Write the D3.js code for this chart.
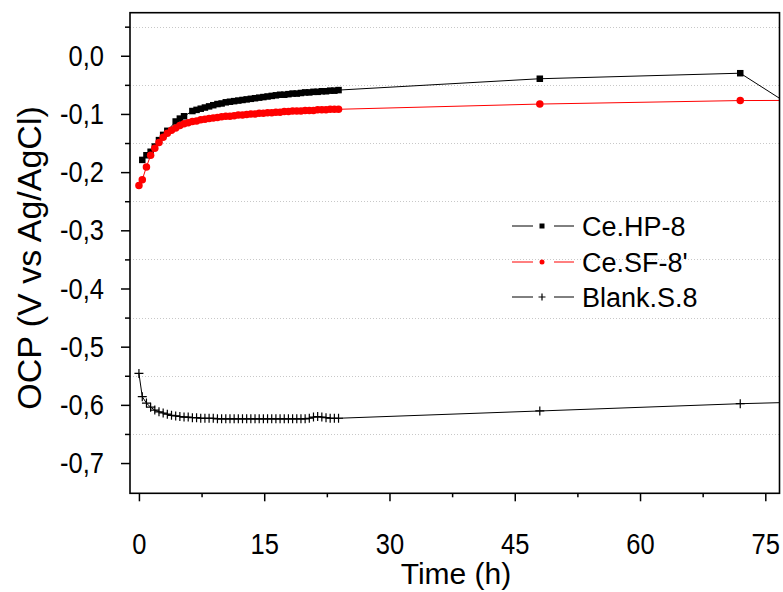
<!DOCTYPE html>
<html>
<head>
<meta charset="utf-8">
<script src="https://cdnjs.cloudflare.com/ajax/libs/d3/7.8.5/d3.min.js"></script>
<style>
  body { margin: 0; background: #fff; }
  text { font-family: "Liberation Sans", Arial, sans-serif; fill: #000; }
</style>
</head>
<body>
<div id="chart"></div>
<script>
// OCP vs time
var hpTime = [0.4, 0.9, 1.4, 1.9, 2.4, 2.9, 3.4, 4.4, 4.9, 5.4, 6.4, 6.9, 7.4, 7.9, 8.4, 8.9, 9.4, 9.9, 10.4, 10.9,
  11.4, 11.9, 12.4, 12.9, 13.4, 13.9, 14.4, 14.9, 15.4, 15.9, 16.4, 16.9, 17.4, 17.9, 18.4, 18.9, 19.4, 19.9,
  20.4, 20.9, 21.4, 21.9, 22.4, 22.9, 23.4, 23.9, 48, 72, 96];
var hpOcp = [-0.179, -0.171, -0.165, -0.156, -0.145, -0.136, -0.129, -0.113, -0.108, -0.104, -0.095, -0.093, -0.091,
  -0.089, -0.087, -0.085, -0.083, -0.082, -0.080, -0.079, -0.078, -0.077, -0.076, -0.075, -0.074, -0.073, -0.072,
  -0.071, -0.070, -0.069, -0.068, -0.067, -0.067, -0.066, -0.065, -0.065, -0.064, -0.063, -0.063, -0.062, -0.062,
  -0.061, -0.061, -0.060, -0.060, -0.059, -0.0395, -0.030, -0.25];

var sfTime = [0.0, 0.4, 0.9, 1.4, 1.9, 2.4, 2.9, 3.4, 3.9, 4.4, 4.9, 5.4, 5.9, 6.4, 6.9, 7.4, 7.9, 8.4, 8.9, 9.4, 9.9,
  10.4, 10.9, 11.4, 11.9, 12.4, 12.9, 13.4, 13.9, 14.4, 14.9, 15.4, 15.9, 16.4, 16.9, 17.4, 17.9, 18.4, 18.9,
  19.4, 19.9, 20.4, 20.9, 21.4, 21.9, 22.4, 22.9, 23.4, 23.9, 48, 72, 96];
var sfOcp = [-0.223, -0.213, -0.191, -0.171, -0.159, -0.149, -0.140, -0.133, -0.128, -0.124, -0.120, -0.117, -0.115,
  -0.113, -0.112, -0.110, -0.109, -0.108, -0.107, -0.106, -0.105, -0.104, -0.104, -0.103, -0.102, -0.102, -0.101,
  -0.100, -0.100, -0.099, -0.099, -0.098, -0.098, -0.097, -0.097, -0.096, -0.096, -0.095, -0.095, -0.095, -0.094,
  -0.094, -0.094, -0.093, -0.093, -0.093, -0.092, -0.092, -0.092, -0.083, -0.077, -0.076];

var blankTime = sfTime; // same sampling
var blankOcp = [-0.546, -0.586, -0.597, -0.604, -0.609, -0.612, -0.614, -0.616, -0.618, -0.619, -0.620, -0.621, -0.621,
  -0.622, -0.622, -0.623, -0.623, -0.623, -0.623, -0.624, -0.624, -0.624, -0.624, -0.624, -0.624, -0.624, -0.624,
  -0.624, -0.624, -0.624, -0.624, -0.624, -0.624, -0.624, -0.624, -0.624, -0.624, -0.624, -0.624, -0.624, -0.624,
  -0.623, -0.621, -0.620, -0.621, -0.622, -0.623, -0.623, -0.623, -0.6105, -0.598, -0.589];

var seriesNames = ["Ce.HP-8", "Ce.SF-8'", "Blank.S.8"];
var seriesColors = ["#000000", "#ff0000", "#000000"];
var xTicks = [0, 15, 30, 45, 60, 75];
var xMinorTicks = [7.5, 22.5, 37.5, 52.5, 67.5];
var yTicks = [0, -0.1, -0.2, -0.3, -0.4, -0.5, -0.6, -0.7];
var yGrid = [0.05, -0.05, -0.15, -0.25, -0.35, -0.45, -0.55, -0.65];

var W = 783, H = 592;
var pLeft = 130, pRight = 779.5, pTop = 12.7, pBottom = 493.3;
var squeeze = 0.85; // tick labels look narrow in the original

var svg = d3.select("#chart").append("svg")
  .attr("width", W).attr("height", H);

var x = d3.scaleLinear().domain([-1.07, 76.7]).range([pLeft, pRight]);
var y = d3.scaleLinear().domain([-0.752, 0.074]).range([pBottom, pTop]);

svg.append("clipPath").attr("id", "clip")
  .append("rect").attr("x", pLeft).attr("y", pTop)
  .attr("width", pRight - pLeft).attr("height", pBottom - pTop);

// dotted grid at the minor positions
svg.append("g").selectAll("line").data(yGrid).enter().append("line")
  .attr("x1", pLeft).attr("x2", pRight)
  .attr("y1", function(d) { return Math.round(y(d)) + 0.5; })
  .attr("y2", function(d) { return Math.round(y(d)) + 0.5; })
  .attr("stroke", "#c8c8c8").attr("stroke-width", 1)
  .attr("stroke-dasharray", "1,2");

var series = [
  { name: seriesNames[0], color: seriesColors[0], shape: "square",
    pts: hpTime.map(function(t, i) { return [t, hpOcp[i]]; }) },
  { name: seriesNames[1], color: seriesColors[1], shape: "circle",
    pts: sfTime.map(function(t, i) { return [t, sfOcp[i]]; }) },
  { name: seriesNames[2], color: seriesColors[2], shape: "plus",
    pts: blankTime.map(function(t, i) { return [t, blankOcp[i]]; }) }
];

var line = d3.line().x(function(d) { return x(d[0]); }).y(function(d) { return y(d[1]); });

var plot = svg.append("g").attr("clip-path", "url(#clip)");

function drawMarker(g, shape, color, size) {
  if (shape == "square") {
    g.append("rect").attr("x", -size / 2).attr("y", -size / 2)
      .attr("width", size).attr("height", size).attr("fill", color);
  } else if (shape == "circle") {
    g.append("circle").attr("r", size / 2).attr("fill", color);
  } else {
    g.append("path").attr("d", "M" + (-size / 2) + ",0H" + (size / 2) + "M0," + (-size / 2) + "V" + (size / 2))
      .attr("stroke", color).attr("stroke-width", 1.2).attr("fill", "none");
  }
}

var sizes = { square: 6.5, circle: 7.5, plus: 9 };

series.forEach(function(s) {
  plot.append("path").datum(s.pts)
    .attr("d", line).attr("fill", "none")
    .attr("stroke", s.color).attr("stroke-width", 1);
  plot.selectAll(null).data(s.pts).enter().append("g")
    .attr("transform", function(d) { return "translate(" + x(d[0]) + "," + y(d[1]) + ")"; })
    .each(function() { drawMarker(d3.select(this), s.shape, s.color, sizes[s.shape]); });
});

// axes
var xAxis = d3.axisBottom(x).tickValues(xTicks).tickSize(8).tickPadding(31)
  .tickFormat(d3.format("d"));
var xMinor = d3.axisBottom(x).tickValues(xMinorTicks).tickSize(4).tickFormat("");
var yAxis = d3.axisLeft(y).tickValues(yTicks).tickSize(9).tickPadding(17)
  .tickFormat(function(d) { return d3.format(".1f")(d).replace(".", ",").replace("−", "-"); });
var yMinor = d3.axisLeft(y).tickValues(yGrid).tickSize(5).tickFormat("");

function styleAxis(g) {
  g.select(".domain").remove();
  g.selectAll(".tick line").attr("stroke", "#000").attr("stroke-width", 1.5);
  g.selectAll("text").style("font-size", "30px").attr("fill", "#000")
    .attr("transform", "scale(" + squeeze + ",1)")
    .attr("x", function() { return +d3.select(this).attr("x") / squeeze; });
}

svg.append("g").attr("transform", "translate(0," + pBottom + ")").call(xAxis).call(styleAxis);
svg.append("g").attr("transform", "translate(0," + pBottom + ")").call(xMinor).call(styleAxis);
svg.append("g").attr("transform", "translate(" + pLeft + ",0)").call(yAxis).call(styleAxis);
svg.append("g").attr("transform", "translate(" + pLeft + ",0)").call(yMinor).call(styleAxis);

// frame
svg.append("rect").attr("x", pLeft).attr("y", pTop)
  .attr("width", pRight - pLeft).attr("height", pBottom - pTop)
  .attr("fill", "none").attr("stroke", "#000").attr("stroke-width", 1.6);

// titles
svg.append("text").attr("x", 456).attr("y", 584).attr("text-anchor", "middle")
  .style("font-size", "30px").text("Time (h)");
svg.append("text").attr("transform", "translate(41,258) rotate(-90)")
  .attr("text-anchor", "middle").style("font-size", "34px").text("OCP (V vs Ag/AgCl)");

// legend
var legendY = [226, 262, 297];
var lg = svg.append("g");
series.forEach(function(s, i) {
  var yy = legendY[i];
  lg.append("line").attr("x1", 512).attr("x2", 533).attr("y1", yy).attr("y2", yy)
    .attr("stroke", s.color).attr("stroke-width", 1);
  lg.append("line").attr("x1", 554).attr("x2", 574).attr("y1", yy).attr("y2", yy)
    .attr("stroke", s.color).attr("stroke-width", 1);
  var m = lg.append("g").attr("transform", "translate(542," + yy + ")");
  drawMarker(m, s.shape, s.color, s.shape == "plus" ? 7 : 5);
  lg.append("text").attr("x", 582).attr("y", yy + 9.5).style("font-size", "27px").text(s.name);
});
</script>
</body>
</html>
